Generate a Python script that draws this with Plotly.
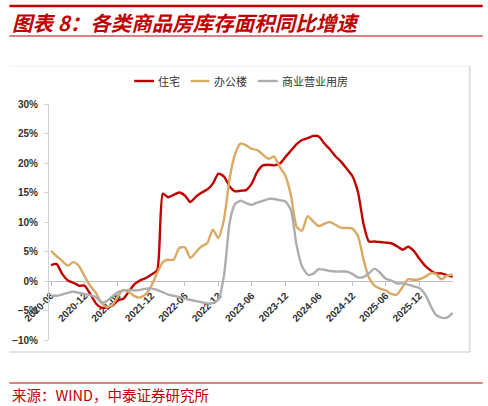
import plotly.graph_objects as go
import pandas as pd

# ---------------- data ----------------
months = pd.date_range("2020-06-01", periods=73, freq="MS")

residential = [2.7, 2.9, 1.2, 0.1, -0.3, -0.8, -0.8, -2.2, -3.8, -4.5,
               -4.5, -4.2, -3.3, -3.0, -1.7, -0.5, 0.1, 0.5, 1.1, 1.8,
               14.8, 14.2, 14.6, 15.0, 14.5, 13.4, 14.3, 15.0, 15.5, 16.5,
               18.2, 17.7, 16.0, 15.2, 15.3, 15.4, 16.5, 18.5, 19.6, 19.7,
               19.6, 19.9, 21.0, 22.1, 23.2, 23.9, 24.2, 24.6, 24.5, 23.3,
               22.3, 21.1, 20.2, 19.0, 17.8, 15.0, 9.5, 6.7, 6.7, 6.6,
               6.5, 6.4, 5.9, 5.3, 5.8, 5.1, 3.8, 2.6, 1.8, 1.3,
               1.3, 1.0, 0.7]

office = [5.1, 4.2, 3.4, 2.6, 3.2, 2.5, 0.8, -0.8, -2.0, -3.6,
          -4.4, -4.1, -2.6, -1.5, -1.9, -2.6, -2.8, -2.2, -0.8, 1.3,
          3.2, 3.6, 3.6, 5.6, 5.7, 3.9, 4.9, 5.9, 6.4, 8.7,
          7.3, 10.5, 17.5, 21.4, 23.3, 23.0, 22.4, 22.2, 21.4, 20.7,
          21.1, 19.3, 17.9, 14.5, 9.2, 8.5, 11.0, 10.1, 9.3, 9.7,
          10.0, 9.5, 9.0, 9.0, 8.9, 7.6, 3.5, 0.6, -0.8, -1.3,
          -1.6, -2.2, -2.3, -1.0, 0.3, 0.2, 0.3, 0.7, 1.3, 1.2,
          0.3, 0.9, 1.1]

commercial = [-2.5, -2.5, -2.3, -2.0, -1.8, -2.0, -2.2, -2.4, -2.7, -3.6,
              -3.4, -2.6, -1.9, -1.6, -1.5, -1.6, -1.5, -1.3, -1.3, -1.5,
              -1.9, -2.3, -2.5, -2.7, -3.0, -3.2, -3.4, -3.6, -3.8, -3.7,
              -3.2, 1.0, 10.0, 13.0, 13.6, 13.2, 12.9, 13.3, 13.6, 13.9,
              13.9, 13.7, 13.5, 12.0, 6.0, 2.5, 1.1, 1.2, 2.0, 1.9,
              1.7, 1.6, 1.6, 1.6, 1.2, 0.6, 0.7, 1.3, 2.1, 1.4,
              0.4, 0.1, -0.4, -0.4, -0.6, -0.9, -1.2, -2.2, -4.2, -5.7,
              -6.2, -6.2, -5.4]

series_names = ["住宅", "办公楼", "商业营业用房"]
series_colors = ["#C00000", "#D8AA64", "#ADADAD"]

tick_labels = ["2020-06", "2020-12", "2021-06", "2021-12", "2022-06", "2022-12",
               "2023-06", "2023-12", "2024-06", "2024-12", "2025-06", "2025-12"]
tick_dates = [lbl + "-01" for lbl in tick_labels]

title_text = "图表 8：各类商品房库存面积同比增速"
source_text = "来源：WIND，中泰证券研究所"

# ---------------- layout geometry (pixels) ----------------
W_FIG, H_FIG = 488, 406
L, R, T, B = 45, 453, 104, 340
PW, PH = R - L, B - T


def px(x):
    return (x - L) / PW


def py(y):
    return (B - y) / PH


fig = go.Figure()
for name, vals, col in zip(series_names, [residential, office, commercial], series_colors):
    fig.add_trace(go.Scatter(
        x=months, y=vals, name=name, mode="lines",
        line=dict(color=col, width=2.4, shape="spline", smoothing=0.6),
        showlegend=False, hoverinfo="skip"))

shapes = []
annotations = []

# red rules
shapes.append(dict(type="line", xref="paper", yref="paper", x0=px(5), x1=px(483),
                   y0=py(6), y1=py(6), line=dict(color="#C00000", width=2.5)))
shapes.append(dict(type="line", xref="paper", yref="paper", x0=px(5), x1=px(483),
                   y0=py(36), y1=py(36), line=dict(color="#C00000", width=1)))
shapes.append(dict(type="line", xref="paper", yref="paper", x0=px(5), x1=px(483),
                   y0=py(383), y1=py(383), line=dict(color="#C00000", width=1)))
# chart frame
shapes.append(dict(type="line", xref="paper", yref="paper", x0=px(5), x1=px(470),
                   y0=py(66), y1=py(66), line=dict(color="#EEEEEE", width=1)))
shapes.append(dict(type="line", xref="paper", yref="paper", x0=px(470), x1=px(470),
                   y0=py(66), y1=py(352), line=dict(color="#C8C8C8", width=1)))
shapes.append(dict(type="line", xref="paper", yref="paper", x0=px(5), x1=px(470),
                   y0=py(352), y1=py(352), line=dict(color="#C8C8C8", width=1)))

# manual legend
leg_y = 81
leg_items = [(131, 151, 153), (188, 207, 210), (256, 276, 278)]
for (x0, x1, tx), name, col in zip(leg_items, series_names, series_colors):
    shapes.append(dict(type="line", xref="paper", yref="paper", x0=px(x0), x1=px(x1),
                       y0=py(leg_y), y1=py(leg_y), line=dict(color=col, width=2.4)))
    annotations.append(dict(text=name, xref="paper", yref="paper", x=px(tx), y=py(leg_y),
                            xanchor="left", yanchor="middle", showarrow=False,
                            font=dict(family="Noto Sans CJK SC", size=11, color="#333333")))

annotations.append(dict(text=title_text, xref="paper", yref="paper", x=px(6), y=py(22),
                        xanchor="left", yanchor="middle", showarrow=False,
                        font=dict(family="Noto Sans CJK SC", size=20.5, color="#C00000",
                                  weight="bold", style="italic")))
annotations.append(dict(text=source_text, xref="paper", yref="paper", x=px(6), y=py(394),
                        xanchor="left", yanchor="middle", showarrow=False,
                        font=dict(family="Noto Sans CJK SC", size=14.5, color="#C00000")))

fig.update_layout(
    width=W_FIG, height=H_FIG,
    margin=dict(l=L, r=W_FIG - R, t=T, b=H_FIG - B, pad=0),
    paper_bgcolor="white", plot_bgcolor="white",
    shapes=shapes, annotations=annotations,
    xaxis=dict(type="date", range=["2020-05-21", "2026-06-03"],
               anchor="free", position=0.25, side="bottom",
               tickvals=tick_dates, ticktext=tick_labels, tickangle=-45,
               showline=True, linecolor="#BFBFBF", linewidth=1,
               ticks="outside", ticklen=4, tickcolor="#BFBFBF",
               showgrid=False, zeroline=False, layer="below traces",
               tickfont=dict(family="Liberation Sans", size=10, color="#333333", weight="bold")),
    yaxis=dict(range=[-10, 30], dtick=5, ticksuffix="%",
               showline=True, linecolor="#D0D0D0", linewidth=1,
               ticks="outside", ticklen=4, tickcolor="#D0D0D0",
               showgrid=False, zeroline=False, ticklabelstandoff=4,
               tickfont=dict(family="Liberation Sans", size=10, color="#333333", weight="bold")),
)

fig.write_html("out.html")
